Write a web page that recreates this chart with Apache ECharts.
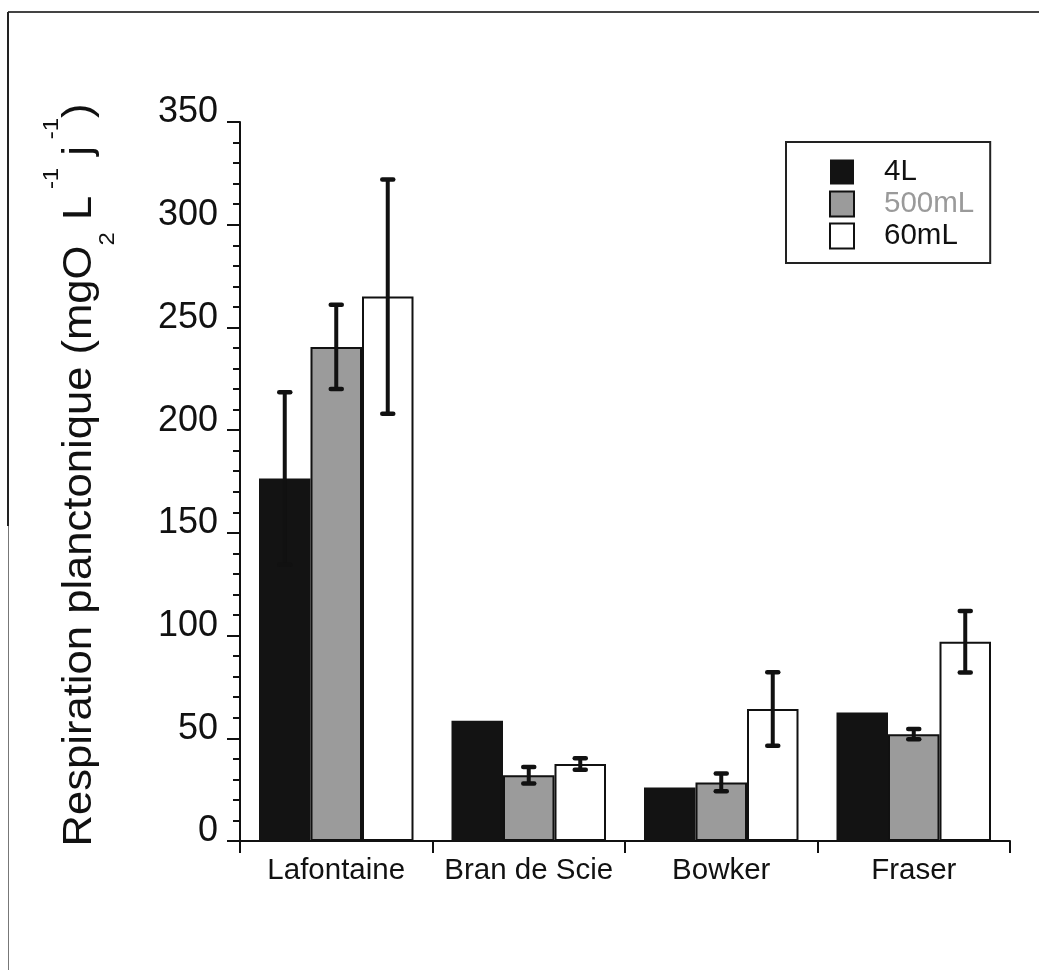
<!DOCTYPE html>
<html>
<head>
<meta charset="utf-8">
<script src="https://cdn.jsdelivr.net/npm/echarts@6/dist/echarts.min.js"></script>
<style>
  html, body { margin: 0; padding: 0; background: #fff; }
  #chart { width: 1039px; height: 970px; }
</style>
</head>
<body>
<div id="chart"></div>
<script>
// Lakes sampled and the three incubation volumes
const categories = ['Lafontaine', 'Bran de Scie', 'Bowker', 'Fraser'];
const seriesNames = ['4L', '500mL', '60mL'];

// Mean planktonic respiration per lake (mgO2 L-1 j-1)
const values4L = [176.5, 58.5, 26, 62.5];
const values500mL = [240.5, 32, 28.5, 52];
const values60mL = [265, 37.5, 64.3, 97];

// Error bar half-widths (null where no bar is drawn)
const err4L = [42, null, null, null];
const err500mL = [20.5, 4, 4.3, 2.5];
const err60mL = [57, 2.8, 17.9, 15];

// Y axis ticks
const yMin = 0, yMax = 350, yStep = 50;

const FONT = 'Liberation Sans, Arial, Helvetica, sans-serif';
const INK = '#111';
const BAR_W = 51.5;

const fills = ['#131313', '#9b9b9b', '#ffffff'];
const allValues = [values4L, values500mL, values60mL];
const allErrors = [err4L, err500mL, err60mL];

const barSeries = seriesNames.map((name, k) => ({
  name: name,
  type: 'bar',
  barWidth: BAR_W,
  barGap: '0%',
  data: allValues[k],
  itemStyle: {
    color: fills[k],
    borderColor: INK,
    borderWidth: k === 0 ? 0 : 2
  },
  z: 2
}));

// Error bars: a thick vertical stroke with short rounded caps,
// shifted to the centre of the matching bar in each group
const errorSeries = seriesNames.map((name, k) => ({
  type: 'custom',
  z: 5,
  silent: true,
  data: categories
    .map((c, i) => allErrors[k][i] == null ? null : [i, allValues[k][i], allErrors[k][i]])
    .filter(d => d !== null),
  renderItem: function (params, api) {
    const idx = api.value(0);
    const v = api.value(1);
    const e = api.value(2);
    const hi = api.coord([idx, v + e]);
    const lo = api.coord([idx, v - e]);
    const x = hi[0] + (k - 1) * BAR_W;
    const capHalf = 5.5;
    const style = { stroke: INK, lineWidth: 4.5, lineCap: 'round' };
    return {
      type: 'group',
      children: [
        { type: 'line', shape: { x1: x, y1: hi[1], x2: x, y2: lo[1] }, style: { stroke: INK, lineWidth: 4 } },
        { type: 'line', shape: { x1: x - capHalf, y1: hi[1], x2: x + capHalf, y2: hi[1] }, style: style },
        { type: 'line', shape: { x1: x - capHalf, y1: lo[1], x2: x + capHalf, y2: lo[1] }, style: style }
      ]
    };
  }
}));

const chart = echarts.init(document.getElementById('chart'), null, { renderer: 'canvas' });

chart.setOption({
  animation: false,
  backgroundColor: '#ffffff',
  textStyle: { fontFamily: FONT },
  grid: { left: 240, right: 29, top: 122, bottom: 129, containLabel: false },
  legend: {
    data: [
      { name: '4L', textStyle: { color: INK } },
      { name: '500mL', textStyle: { color: '#9a9a9a' } },
      { name: '60mL', textStyle: { color: INK } }
    ],
    orient: 'vertical',
    left: 786,
    top: 142,
    icon: 'rect',
    itemWidth: 24,
    itemHeight: 25,
    itemGap: 2,
    padding: [15, 16, 12, 43],
    borderColor: '#222',
    borderWidth: 2,
    backgroundColor: '#fff',
    textStyle: { fontFamily: FONT, fontSize: 29.5, padding: [0, 0, 0, 25] }
  },
  xAxis: {
    type: 'category',
    data: categories,
    axisLine: { lineStyle: { color: INK, width: 2 } },
    axisTick: { show: true, length: 12, alignWithLabel: false, lineStyle: { color: INK, width: 2 } },
    axisLabel: { color: INK, fontSize: 29.5, margin: 15, fontFamily: FONT, interval: 0 },
    splitLine: { show: false }
  },
  yAxis: {
    type: 'value',
    min: yMin,
    max: yMax,
    interval: yStep,
    axisLine: { show: true, lineStyle: { color: INK, width: 2 } },
    axisTick: { show: true, length: 13, lineStyle: { color: INK, width: 2 } },
    minorTick: { show: true, splitNumber: 5, length: 7, lineStyle: { color: INK, width: 2 } },
    axisLabel: {
      color: INK, fontSize: 36, margin: 22, fontFamily: FONT,
      verticalAlign: 'bottom', lineHeight: 19
    },
    splitLine: { show: false },
    minorSplitLine: { show: false }
  },
  graphic: [
    // outer frame
    { type: 'line', shape: { x1: 8, y1: 12, x2: 1039, y2: 12 }, style: { stroke: '#444', lineWidth: 2 } },
    { type: 'line', shape: { x1: 8, y1: 12, x2: 8, y2: 526 }, style: { stroke: '#222', lineWidth: 2 } },
    { type: 'line', shape: { x1: 8.5, y1: 526, x2: 8.5, y2: 970 }, style: { stroke: '#777', lineWidth: 1 } },
    // y axis title with subscript and superscripts, slightly stretched along its length
    {
      type: 'text',
      x: 80,
      y: 475,
      rotation: Math.PI / 2,
      scaleX: 1.09,
      style: {
        text: '{a|Respiration planctonique (mgO}{sub|2}{a| L}{sup| -1}{a| j}{sup| -1}{a|)}',
        align: 'center',
        verticalAlign: 'middle',
        fill: INK,
        rich: {
          a: { fontFamily: FONT, fontSize: 40, lineHeight: 78, fill: INK, color: INK },
          sub: { fontFamily: FONT, fontSize: 22, lineHeight: 33, verticalAlign: 'bottom', fill: INK, color: INK },
          sup: { fontFamily: FONT, fontSize: 22, lineHeight: 22, verticalAlign: 'top', fill: INK, color: INK }
        }
      }
    }
  ],
  series: barSeries.concat(errorSeries)
});
</script>
</body>
</html>
